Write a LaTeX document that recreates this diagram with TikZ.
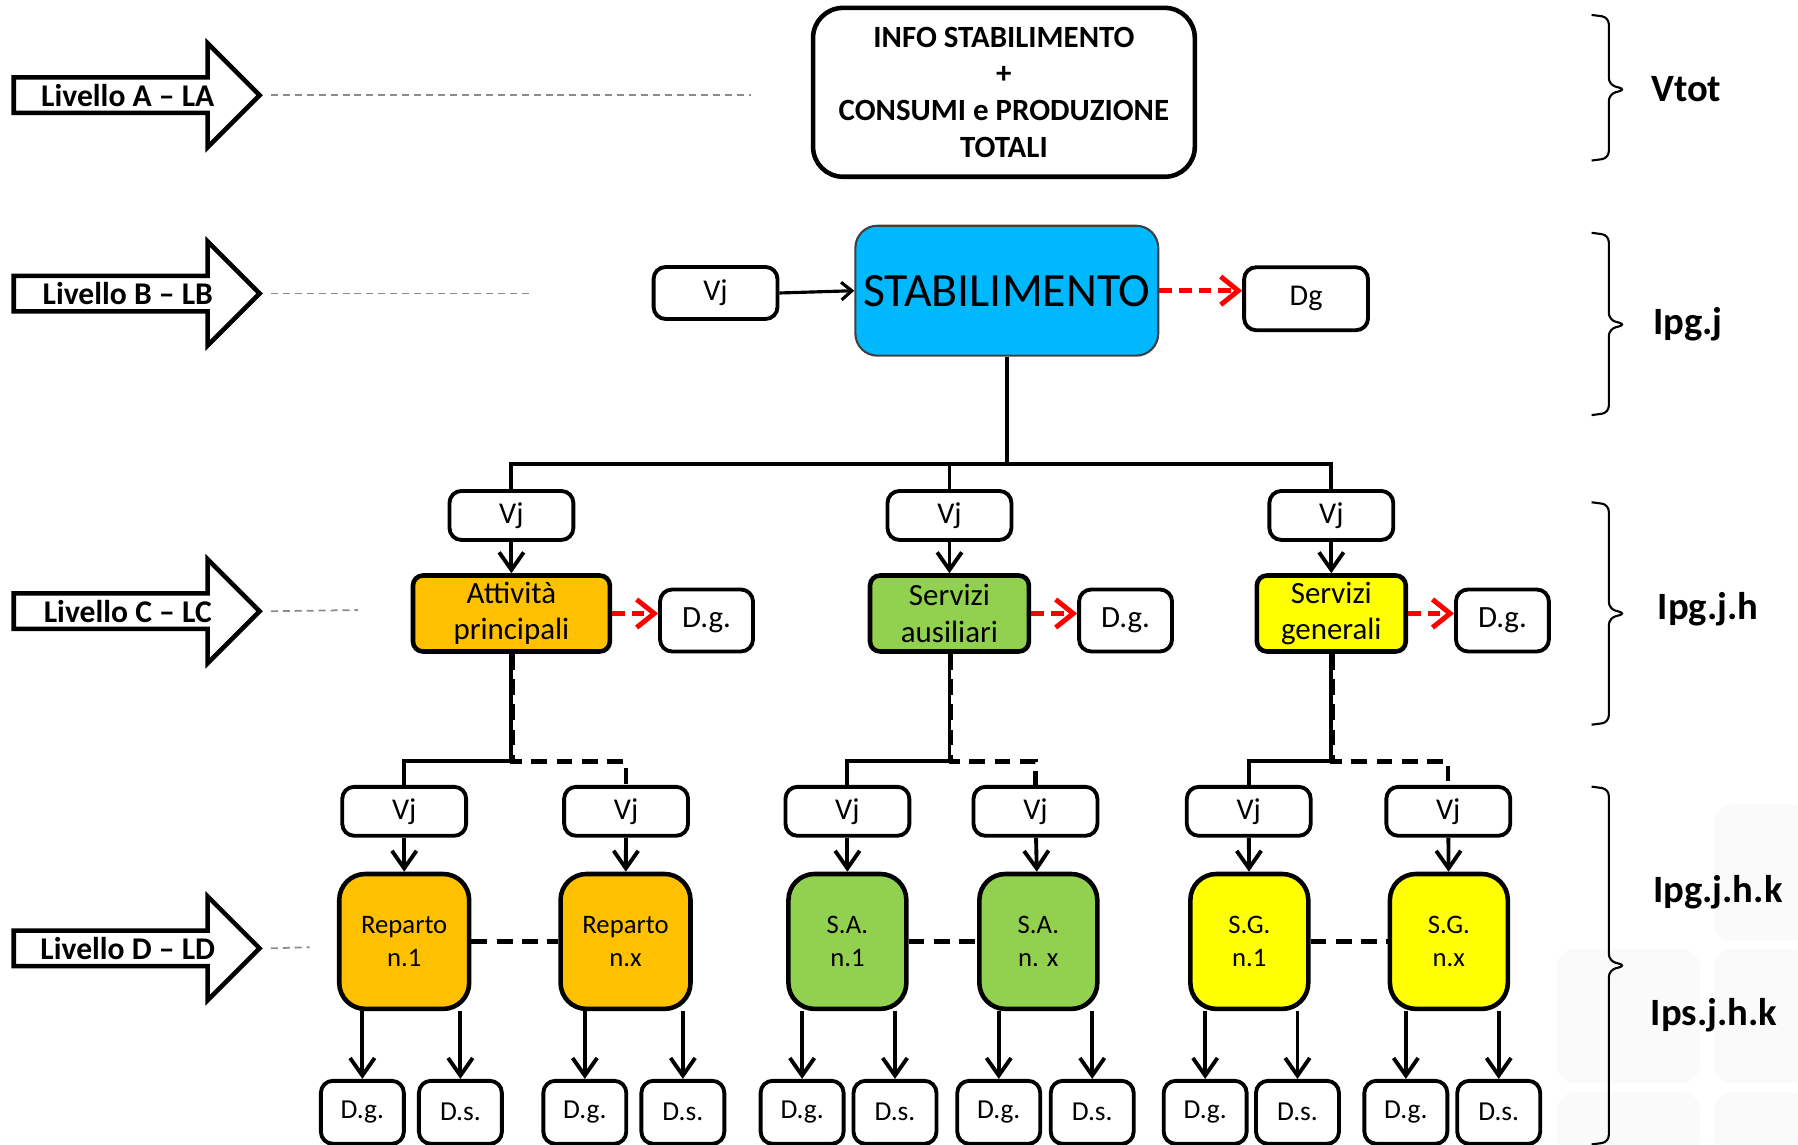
\documentclass[tikz,border=0pt]{standalone}
\usepackage{fontspec}
\setmainfont{Carlito}
\usetikzlibrary{shapes.arrows, arrows.meta, positioning, calc}
\definecolor{stabblue}{HTML}{00B8FF}
\definecolor{attorange}{HTML}{FFC000}
\definecolor{ausgreen}{HTML}{92D050}
\definecolor{genyellow}{HTML}{FFFF00}
\definecolor{dgred}{HTML}{FF0000}
\definecolor{guidegray}{HTML}{8C8C8C}
\newcommand{\px}{0.011467cm}
\tikzset{
  lvlarrow/.style={single arrow, draw, line width=1.3pt, fill=white,
                   single arrow tip angle=90, single arrow head extend=0.26cm,
                   minimum height=2.46cm, minimum width=1.04cm, inner sep=0pt,
                   anchor=tail, font=\bfseries\fontsize{9}{11}\selectfont},
  vjbox/.style={rectangle, rounded corners=1.2mm, draw, line width=1.1pt,
                fill=white, minimum width=1.24cm, minimum height=0.49cm,
                inner sep=0pt, font=\fontsize{8.6}{10}\selectfont},
  sidebox/.style={vjbox, minimum width=0.93cm, minimum height=0.62cm,
                  font=\fontsize{8.8}{10}\selectfont},
  leafbox/.style={vjbox, minimum width=0.83cm, minimum height=0.63cm,
                  font=\fontsize{7.8}{9}\selectfont},
  catbox/.style={rectangle, rounded corners=1mm, draw, line width=1.3pt,
                 minimum height=0.76cm, inner sep=0pt, align=center,
                 font=\fontsize{8.8}{10.4}\selectfont},
  repbox/.style={rectangle, rounded corners=2.6mm, draw, line width=1.3pt,
                 minimum width=1.18cm, minimum height=1.35cm, inner sep=0pt,
                 align=center, font=\fontsize{7.6}{9.2}\selectfont},
  bracelbl/.style={anchor=west, inner sep=0pt, font=\bfseries\fontsize{11}{13}\selectfont},
  brk/.style={line width=0.6pt, rounded corners=0.7mm},
}

\begin{document}
\begin{tikzpicture}[
  x=\px, y=-\px,
  conn/.style={line width=1.1pt},
  arr/.style={conn, -{Straight Barb[length=5pt, width=7pt]}},
  redarr/.style={draw=dgred, line width=1.4pt, dash pattern=on 3.6pt off 2pt,
                 -{Straight Barb[length=5pt, width=8pt]}},
  dashcon/.style={line width=1.2pt, dash pattern=on 4.5pt off 2.7pt},
  guide/.style={draw=guidegray, line width=0.5pt, dash pattern=on 2pt off 1.4pt},
  tile/.style={fill=black!2, draw=white, line width=1pt, rounded corners=2mm},
]
  \useasboundingbox (0,0) rectangle (1568,998);

  %% faint background tiles (bottom right)
  \filldraw[tile] (1493,700) rectangle (1580,822);
  \filldraw[tile] (1356,826) rectangle (1484,946);
  \filldraw[tile] (1493,826) rectangle (1580,946);
  \filldraw[tile] (1356,951) rectangle (1484,1010);
  \filldraw[tile] (1493,951) rectangle (1580,1010);

  %% Level arrows with guide lines
  \node[lvlarrow] (lvA) at (10,83)  {Livello A -- LA};
  \node[lvlarrow] (lvB) at (10,256) {Livello B -- LB};
  \node[lvlarrow] (lvC) at (10,533) {Livello C -- LC};
  \node[lvlarrow] (lvD) at (10,827) {Livello D -- LD};

  \coordinate (gA) at (655,83);
  \coordinate (gB) at (462,256);
  \coordinate (gC) at (312,532);
  \coordinate (gD) at (270,826);
  \draw[guide] ([xshift=7*\px]lvA.tip) -- (gA);
  \draw[guide] ([xshift=7*\px]lvB.tip) -- (gB);
  \draw[guide] ([xshift=7*\px]lvC.tip) -- (gC);
  \draw[guide] ([xshift=7*\px]lvD.tip) -- (gD);

  %% Level A: info box
  \node[rectangle, rounded corners=3mm, draw, line width=1.3pt,
        minimum width=3.82cm, minimum height=1.69cm, align=center,
        font=\bfseries\fontsize{8.8}{10.5}\selectfont] (info) at (875.5,80.5)
        {INFO STABILIMENTO\\+\\CONSUMI e PRODUZIONE\\TOTALI};

  %% Level B: Vj -> STABILIMENTO -> Dg
  \node[rectangle, rounded corners=2.2mm, draw=black!75, line width=0.6pt,
        fill=stabblue, minimum width=3.03cm, minimum height=1.3cm,
        inner sep=0pt, font=\fontsize{13.6}{15}\selectfont] (stab) at (878,253.5)
        {STABILIMENTO};
  \node[vjbox, minimum height=0.52cm] (vjB) at (624,255.5) {Vj};
  \node[vjbox, minimum height=0.63cm] (dgB) at (1139,260.5) {Dg};

  \draw[line width=0.9pt, -{Straight Barb[length=3pt, width=5pt]}] (vjB.east) -- (stab.west);
  \draw[redarr] (stab.east) -- (stab.east -| dgB.west);

  %% Level C: three branches
  \node[vjbox] (vjAtt) at (446,449.5)  {Vj};
  \node[vjbox] (vjAus) at (828,449.5)  {Vj};
  \node[vjbox] (vjGen) at (1161,449.5) {Vj};

  \node[catbox, fill=attorange, minimum width=1.97cm] (att) at (446,535)
        {Attività\\principali};
  \node[catbox, fill=ausgreen, minimum width=1.59cm] (aus) at (828,535)
        {Servizi\\ausiliari};
  \node[catbox, fill=genyellow, minimum width=1.49cm] (gen) at (1161,535)
        {Servizi\\generali};

  \node[sidebox, right=0.46cm of att, yshift=-0.07cm] (dgAtt) {D.g.};
  \node[sidebox, right=0.46cm of aus, yshift=-0.07cm] (dgAus) {D.g.};
  \node[sidebox, right=0.46cm of gen, yshift=-0.07cm] (dgGen) {D.g.};

  \coordinate (busC) at (0,405);
  \draw[conn] (stab.south) -- (stab.south |- busC);
  \draw[conn] (vjAtt.north) |- (stab.south |- busC) -| (vjGen.north);
  \draw[conn] (vjAus.north) -- (vjAus.north |- busC);

  \draw[arr] (vjAtt) -- (att);
  \draw[arr] (vjAus) -- (aus);
  \draw[arr] (vjGen) -- (gen);

  \draw[redarr] (att.east) -- (att.east -| dgAtt.west);
  \draw[redarr] (aus.east) -- (aus.east -| dgAus.west);
  \draw[redarr] (gen.east) -- (gen.east -| dgGen.west);

  %% Level D: departments and services
  \node[repbox, fill=attorange, minimum width=1.3cm] (rep1) at (352.5,821) {Reparto\\n.1};
  \node[repbox, fill=attorange, minimum width=1.3cm] (repx) at (545.5,821) {Reparto\\n.x};
  \node[repbox, fill=ausgreen] (sa1) at (739,821)    {S.A.\\n.1};
  \node[repbox, fill=ausgreen] (sax) at (905.5,821)  {S.A.\\n. x};
  \node[repbox, fill=genyellow] (sg1) at (1089.5,821) {S.G.\\n.1};
  \node[repbox, fill=genyellow] (sgx) at (1263.5,821) {S.G.\\n.x};

  \node[vjbox] (vjRep1) at (352.5,707.5)  {Vj};
  \node[vjbox] (vjRepx) at (546,707.5)    {Vj};
  \node[vjbox] (vjSa1)  at (739,707.5)    {Vj};
  \node[vjbox] (vjSax)  at (903,707.5)    {Vj};
  \node[vjbox] (vjSg1)  at (1089,707.5)   {Vj};
  \node[vjbox] (vjSgx)  at (1263,707.5)   {Vj};

  \coordinate (busD) at (0,664);
  \draw[conn] (att.south) -- (att.south |- busD) -| (vjRep1.north);
  \draw[conn] (aus.south) -- (aus.south |- busD) -| (vjSa1.north);
  \draw[conn] (gen.south) -- (gen.south |- busD) -| (vjSg1.north);
  \draw[dashcon] ([xshift=1*\px]att.south) |- (vjRepx.north |- busD) -- (vjRepx.north);
  \draw[dashcon] ([xshift=1*\px]aus.south) |- (vjSax.north |- busD) -- (vjSax.north);
  \draw[dashcon] ([xshift=1*\px]gen.south) |- (vjSgx.north |- busD) -- (vjSgx.north);

  \draw[arr] (vjRep1) -- (rep1);
  \draw[arr] (vjRepx) -- (repx);
  \draw[arr] (vjSa1)  -- (sa1);
  \draw[arr] (vjSax)  -- (sax);
  \draw[arr] (vjSg1)  -- (sg1);
  \draw[arr] (vjSgx)  -- (sgx);

  \draw[dashcon] (rep1) -- (repx);
  \draw[dashcon] (sa1)  -- (sax);
  \draw[dashcon] (sg1)  -- (sgx);

  %% Leaves: D.g. / D.s.
  \node[leafbox] (dgRep1) at (316,970)    {D.g.};
  \node[leafbox] (dsRep1) at (401.5,970)  {D.s.};
  \node[leafbox] (dgRepx) at (510,970)    {D.g.};
  \node[leafbox] (dsRepx) at (595.5,970)  {D.s.};
  \node[leafbox] (dgSa1)  at (699.5,970)  {D.g.};
  \node[leafbox] (dsSa1)  at (780.5,970)  {D.s.};
  \node[leafbox] (dgSax)  at (871,970)    {D.g.};
  \node[leafbox] (dsSax)  at (952.5,970)  {D.s.};
  \node[leafbox] (dgSg1)  at (1051,970)   {D.g.};
  \node[leafbox] (dsSg1)  at (1131.5,970) {D.s.};
  \node[leafbox] (dgSgx)  at (1226,970)   {D.g.};
  \node[leafbox] (dsSgx)  at (1307,970)   {D.s.};

  \draw[arr] (dgRep1.north |- rep1.south) -- (dgRep1.north);
  \draw[arr] (dsRep1.north |- rep1.south) -- (dsRep1.north);
  \draw[arr] (dgRepx.north |- repx.south) -- (dgRepx.north);
  \draw[arr] (dsRepx.north |- repx.south) -- (dsRepx.north);
  \draw[arr] (dgSa1.north |- sa1.south)   -- (dgSa1.north);
  \draw[arr] (dsSa1.north |- sa1.south)   -- (dsSa1.north);
  \draw[arr] (dgSax.north |- sax.south)   -- (dgSax.north);
  \draw[arr] (dsSax.north |- sax.south)   -- (dsSax.north);
  \draw[arr] (dgSg1.north |- sg1.south)   -- (dgSg1.north);
  \draw[arr] (dsSg1.north |- sg1.south)   -- (dsSg1.north);
  \draw[arr] (dgSgx.north |- sgx.south)   -- (dgSgx.north);
  \draw[arr] (dsSgx.north |- sgx.south)   -- (dsSgx.north);

  %% Braces and indicators
  \draw[brk] (1388,13)  -- (1403,15)  -- (1403,74)  -- (1418,78)
             -- (1403,82)  -- (1403,138) -- (1388,140);
  \draw[brk] (1388,203) -- (1403,205) -- (1403,279) -- (1418,283)
             -- (1403,287) -- (1403,360) -- (1388,362);
  \draw[brk] (1388,438) -- (1403,440) -- (1403,531) -- (1418,535)
             -- (1403,539) -- (1403,630) -- (1388,632);
  \draw[brk] (1388,686) -- (1403,688) -- (1403,838) -- (1418,842)
             -- (1403,846) -- (1403,996) -- (1388,998);

  \node[bracelbl] (vtot)  at (1440,78)  {Vtot};
  \node[bracelbl] (ipgj)  at (1441,283) {Ipg.j};
  \node[bracelbl] (ipgjh) at (1445,531) {Ipg.j.h};
  \node[bracelbl] (ipgk)  at (1441,778) {Ipg.j.h.k};
  \node[bracelbl] (ipsk)  at (1439,885) {Ips.j.h.k};

\end{tikzpicture}
\end{document}
